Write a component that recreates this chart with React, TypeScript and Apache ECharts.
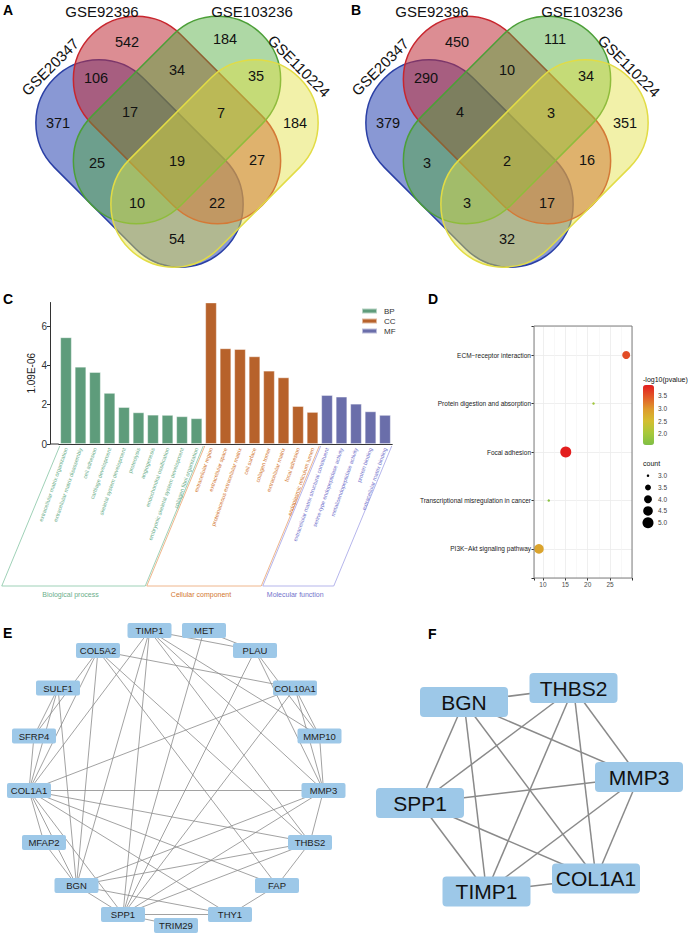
import React, { useEffect, useRef } from 'react';
import * as echarts from 'echarts';

const FONT = '"Liberation Sans", Arial, Helvetica, sans-serif';

// ---------------- Panel A / B : Venn counts ----------------
const vennSetNames = ['GSE20347', 'GSE92396', 'GSE103236', 'GSE110224'];
const vennRegionKeys = ['1', '2', '3', '4', '12', '23', '34', '13', '24', '14', '123', '234', '134', '124', '1234'];
const vennCountsA = [371, 542, 184, 184, 106, 34, 35, 25, 27, 54, 17, 7, 10, 22, 19];
const vennCountsB = [379, 450, 111, 351, 290, 10, 34, 3, 16, 32, 4, 3, 3, 17, 2];

// ---------------- Panel C : GO terms ----------------
const goTerms = [
  'extracellular matrix organization', 'extracellular matrix disassembly', 'cell adhesion',
  'cartilage development', 'skeletal system development', 'proteolysis', 'angiogenesis',
  'endochondral ossification', 'embryonic skeletal system development', 'collagen fibril organization',
  'extracellular region', 'extracellular space', 'proteinaceous extracellular matrix', 'cell surface',
  'collagen trimer', 'extracellular matrix', 'focal adhesion', 'endoplasmic reticulum lumen',
  'extracellular matrix structural constituent', 'serine-type endopeptidase activity',
  'metalloendopeptidase activity', 'protein binding', 'extracellular matrix binding',
];
const goGroups = [
  'BP', 'BP', 'BP', 'BP', 'BP', 'BP', 'BP', 'BP', 'BP', 'BP',
  'CC', 'CC', 'CC', 'CC', 'CC', 'CC', 'CC', 'CC',
  'MF', 'MF', 'MF', 'MF', 'MF',
];
const goValues = [
  5.43, 3.93, 3.66, 2.6, 1.88, 1.61, 1.49, 1.48, 1.41, 1.31,
  7.2, 4.87, 4.83, 4.46, 3.73, 3.39, 1.93, 1.63,
  2.49, 2.41, 2.05, 1.66, 1.48,
];
const goGroupNames = ['BP', 'CC', 'MF'];
const goGroupTitles = ['Biological process', 'Cellular component', 'Molecular function'];
const goYAxisName = '1.09E-06';

// ---------------- Panel D : KEGG ----------------
const keggTerms = [
  'ECM\u2212receptor interaction', 'Protein digestion and absorption', 'Focal adhesion',
  'Transcriptional misregulation in cancer', 'PI3K\u2212Akt signaling pathway',
];
const keggRatio = [28.6, 21.3, 15.1, 11.3, 9.1];
const keggLogP = [3.55, 1.95, 3.9, 1.7, 2.85];
const keggCount = [4, 3, 5, 3, 4.5];
const keggMinorX = [12.5, 17.5, 22.5, 27.5];
const colorbarTicks = [3.5, 3.0, 2.5, 2.0];
const countLegend = [3.0, 3.5, 4.0, 4.5, 5.0];

// ---------------- Panel E / F : networks ----------------
const netENodes = ['TIMP1', 'MET', 'PLAU', 'COL5A2', 'SULF1', 'COL10A1', 'SFRP4', 'MMP10', 'COL1A1', 'MMP3', 'MFAP2', 'THBS2', 'BGN', 'FAP', 'SPP1', 'THY1', 'TRIM29'];
const netEEdges: [string, string][] = [
  ['COL5A2', 'COL10A1'],
  ['TIMP1', 'COL1A1'], ['TIMP1', 'BGN'], ['TIMP1', 'SPP1'], ['TIMP1', 'THBS2'], ['TIMP1', 'MMP3'], ['TIMP1', 'MMP10'], ['TIMP1', 'PLAU'],
  ['MET', 'PLAU'], ['MET', 'SPP1'],
  ['PLAU', 'SPP1'], ['PLAU', 'MMP10'], ['PLAU', 'MMP3'],
  ['COL10A1', 'COL1A1'], ['COL10A1', 'SPP1'], ['COL10A1', 'MMP10'], ['COL10A1', 'MMP3'],
  ['COL5A2', 'COL1A1'], ['COL5A2', 'SFRP4'], ['COL5A2', 'BGN'], ['COL5A2', 'THBS2'], ['COL5A2', 'FAP'],
  ['SULF1', 'SFRP4'], ['SULF1', 'COL1A1'], ['SULF1', 'BGN'],
  ['SFRP4', 'COL1A1'],
  ['COL1A1', 'MMP3'], ['COL1A1', 'THBS2'], ['COL1A1', 'FAP'], ['COL1A1', 'THY1'], ['COL1A1', 'SPP1'], ['COL1A1', 'BGN'], ['COL1A1', 'MFAP2'],
  ['MFAP2', 'BGN'],
  ['BGN', 'SPP1'], ['BGN', 'THY1'], ['BGN', 'MMP3'], ['BGN', 'THBS2'],
  ['SPP1', 'THY1'], ['SPP1', 'MMP3'], ['SPP1', 'THBS2'], ['SPP1', 'TRIM29'],
  ['THBS2', 'FAP'], ['THBS2', 'MMP3'], ['MMP10', 'MMP3'], ['FAP', 'THY1'],
];
const netFNodes = ['BGN', 'THBS2', 'MMP3', 'SPP1', 'COL1A1', 'TIMP1'];
const netFEdges: [string, string][] = [
  ['BGN', 'THBS2'], ['BGN', 'SPP1'], ['BGN', 'TIMP1'], ['BGN', 'COL1A1'], ['BGN', 'MMP3'],
  ['THBS2', 'SPP1'], ['THBS2', 'TIMP1'], ['THBS2', 'COL1A1'], ['THBS2', 'MMP3'],
  ['MMP3', 'SPP1'], ['MMP3', 'TIMP1'], ['MMP3', 'COL1A1'],
  ['SPP1', 'TIMP1'], ['SPP1', 'COL1A1'], ['TIMP1', 'COL1A1'],
];

// ---------------- layout (positions / styles only) ----------------
const vennRegionPos: Record<string, [number, number]> = {
  '1': [58, 123], '2': [127, 42], '3': [225, 39], '4': [295, 123],
  '12': [96, 78], '23': [177, 70], '34': [256, 76], '13': [97, 163], '24': [257, 160], '14': [177, 239],
  '123': [130, 112], '234': [221, 113], '134': [137, 203], '124': [217, 203], '1234': [177, 161],
};
const STAD_L = 241, STAD_W = 126;
const vennShapes = [
  { cx: 139.5, cy: 163.5, rot: -Math.PI / 4, fill: 'rgba(40,68,176,0.55)', stroke: '#2A3FA5' },
  { cx: 177, cy: 120, rot: -Math.PI / 4, fill: 'rgba(192,48,58,0.55)', stroke: '#C8262E' },
  { cx: 177, cy: 120, rot: Math.PI / 4, fill: 'rgba(76,168,56,0.45)', stroke: '#4C9F38' },
  { cx: 214.5, cy: 163.5, rot: Math.PI / 4, fill: 'rgba(226,224,64,0.45)', stroke: '#E2DC45' },
];
const vennLabelPos = [
  { x: 50, y: 67, rot: Math.PI / 4 },
  { x: 102, y: 11, rot: 0 },
  { x: 252, y: 11, rot: 0 },
  { x: 299, y: 66, rot: -Math.PI / 4 },
];
const netEPos: Record<string, [number, number]> = {
  TIMP1: [149.5, 630.5], MET: [204, 630.5], PLAU: [255, 650.5], COL5A2: [98, 650.5],
  SULF1: [58, 688], COL10A1: [295, 688], SFRP4: [34, 736], MMP10: [319.5, 736],
  COL1A1: [29, 790.5], MMP3: [323.5, 790.5], MFAP2: [44, 842.5], THBS2: [310, 842.5],
  BGN: [76.5, 885.5], FAP: [277, 885.5], SPP1: [123, 914.5], THY1: [230, 914.5], TRIM29: [176, 925.5],
};
const netFPos: Record<string, [number, number]> = {
  BGN: [464, 702], THBS2: [573.5, 688], MMP3: [639, 777], SPP1: [420, 803], COL1A1: [596, 878.5], TIMP1: [486.5, 891.5],
};
const NODE_E_PATH = 'path://M2,0H42A2,2 0 0 1 44,2V13A2,2 0 0 1 42,15H2A2,2 0 0 1 0,13V2A2,2 0 0 1 2,0Z';
const NODE_F_PATH = 'path://M4,0H84A4,4 0 0 1 88,4V26A4,4 0 0 1 84,30H4A4,4 0 0 1 0,26V4A4,4 0 0 1 4,0Z';

const groupBar: Record<string, string> = { BP: '#5E9C7B', CC: '#B7622B', MF: '#6A6EAA' };
const groupText: Record<string, string> = { BP: '#6AAE8A', CC: '#D2762F', MF: '#7373CC' };
const groupLine: Record<string, string> = { BP: '#86C5A4', CC: '#EBA36E', MF: '#A2A2E6' };

const C_LEFT = 58.75;
const C_BAND = 14.5;
const C_TOP = 302.5;
const C_H = 141.5;
const C_YMAX = 7.2;

const D_LEFT = 534, D_TOP = 326, D_W = 98, D_H = 252;
const LOGP_MIN = 1.57, LOGP_MAX = 3.91;
const CB_X = 643, CB_Y = 385, CB_W = 11, CB_H = 60;

function dotSize(c: number) {
  const dmin = 2.5, dmax = 11;
  return Math.sqrt(dmin * dmin + (dmax * dmax - dmin * dmin) * (c - 3) / 2);
}

function text(x: number, y: number, t: string, o: any = {}) {
  const align = o.align || 'center';
  const va = o.va || 'middle';
  return {
    type: 'text', x, y, rotation: o.rot || 0, silent: true, z: 20,
    style: {
      text: t, fill: o.color || '#111', fontSize: o.size || 10, fontFamily: FONT,
      fontWeight: o.weight || 'normal', align, verticalAlign: va, textAlign: align, textVerticalAlign: va,
    },
  };
}

function buildOption() {
  const graphic: any[] = [];

  // Venn panels
  [vennCountsA, vennCountsB].forEach((counts, p) => {
    const dx = p * 330;
    vennShapes.forEach((s) => {
      graphic.push({
        type: 'rect', x: s.cx + dx, y: s.cy, rotation: s.rot, silent: true, z: 5,
        shape: { x: -STAD_L / 2, y: -STAD_W / 2, width: STAD_L, height: STAD_W, r: STAD_W / 2 },
        style: { fill: s.fill, stroke: s.stroke, lineWidth: 1.5 },
      });
    });
    vennRegionKeys.forEach((k, i) => {
      const pos = vennRegionPos[k];
      graphic.push(text(pos[0] + dx, pos[1], String(counts[i]), { size: 14.5 }));
    });
    vennSetNames.forEach((n, i) => {
      const lp = vennLabelPos[i];
      graphic.push(text(lp.x + dx, lp.y, n, { size: 15, rot: lp.rot }));
    });
  });

  // Panel letters
  const letters: [string, number, number][] = [['A', 3, 3], ['B', 351, 3], ['C', 3, 292], ['D', 428, 292], ['E', 3, 626], ['F', 428, 627]];
  letters.forEach(([l, x, y]) => graphic.push(text(x, y, l, { size: 14, weight: 'bold', align: 'left', va: 'top', color: '#000' })));

  // Panel C extra: axis line segment left of first band
  graphic.push({ type: 'line', silent: true, shape: { x1: 50, y1: C_TOP + C_H, x2: C_LEFT, y2: C_TOP + C_H }, style: { stroke: '#333', lineWidth: 1 } });

  // Panel C brackets
  const bounds: number[] = [0];
  let acc = 0;
  goGroupNames.forEach((g) => { acc += goGroups.filter((x) => x === g).length; bounds.push(acc); });
  const topY = 446, botY = 586, slant = 58;
  goGroupNames.forEach((g, gi) => {
    const lt = C_LEFT + bounds[gi] * C_BAND + 1;
    const rt = C_LEFT + bounds[gi + 1] * C_BAND - 0.5;
    graphic.push({
      type: 'polyline', silent: true,
      shape: { points: [[lt, topY], [lt - slant, botY], [rt - slant, botY], [rt, topY]] },
      style: { stroke: groupLine[g], lineWidth: 0.8, fill: null },
    });
    graphic.push(text((lt + rt) / 2 - slant - 3, 594, goGroupTitles[gi], { size: 7, color: groupText[g] }));
  });

  // Panel D: box border, legends
  graphic.push({ type: 'rect', silent: true, z: 15, shape: { x: D_LEFT, y: D_TOP, width: D_W, height: D_H }, style: { fill: null, stroke: '#7F7F7F', lineWidth: 1 } });
  graphic.push(text(CB_X, 379, '-log10(pvalue)', { size: 7, align: 'left', color: '#111' }));
  colorbarTicks.forEach((v) => {
    const y = CB_Y + (LOGP_MAX - v) / (LOGP_MAX - LOGP_MIN) * CB_H;
    graphic.push(text(658, y, v.toFixed(1), { size: 6.5, align: 'left', color: '#444' }));
  });
  graphic.push(text(CB_X, 463, 'count', { size: 7, align: 'left', color: '#111' }));
  countLegend.forEach((c, i) => {
    const y = 475.7 + i * 11.75;
    graphic.push({ type: 'circle', silent: true, shape: { cx: 648, cy: y, r: dotSize(c) / 2 }, style: { fill: '#000' } });
    graphic.push(text(658, y, c.toFixed(1), { size: 6.5, align: 'left', color: '#444' }));
  });

  const barSeries = goGroupNames.map((g) => ({
    type: 'bar', name: g, stack: 'go', xAxisIndex: 0, yAxisIndex: 0, barWidth: 11.5,
    itemStyle: { color: groupBar[g], borderColor: 'rgba(255,255,255,0.55)', borderWidth: 0.8 },
    data: goValues.map((v, i) => (goGroups[i] === g ? v : '-')),
  }));

  const mkNodes = (names: string[], pos: Record<string, [number, number]>) =>
    names.map((n) => ({ name: n, value: pos[n] }));
  const mkLinks = (edges: [string, string][]) => edges.map(([s, t]) => ({ source: s, target: t }));

  return {
    animation: false,
    backgroundColor: '#ffffff',
    textStyle: { fontFamily: FONT },
    legend: {
      data: goGroupNames, orient: 'vertical', left: 361, top: 307, itemWidth: 15, itemHeight: 5, itemGap: 2,
      icon: 'rect', padding: 0, selectedMode: false,
      textStyle: { fontSize: 8, color: '#333', fontFamily: FONT, padding: [0, 0, 0, 2] },
    },
    grid: [
      { left: C_LEFT, top: C_TOP, width: C_BAND * goTerms.length, height: C_H },
      { left: D_LEFT, top: D_TOP, width: D_W, height: D_H },
      { left: 0, top: 0, width: 691, height: 936 },
    ],
    xAxis: [
      {
        gridIndex: 0, type: 'category', data: goTerms,
        axisLine: { lineStyle: { color: '#333', width: 1 } },
        axisTick: { alignWithLabel: true, length: 3, lineStyle: { color: '#333' } },
        axisLabel: {
          interval: 0, rotate: 71, fontSize: 5.5, margin: 4, fontFamily: FONT,
          color: (v: string, i: number) => groupText[goGroups[i]],
        },
      },
      {
        gridIndex: 1, type: 'value', min: 8, max: 29.9,
        axisLine: { show: false },
        axisTick: { show: true, length: 2.5, lineStyle: { color: '#333' } },
        splitLine: { show: true, lineStyle: { color: '#EBEBEB', width: 0.8 } },
        axisLabel: {
          fontSize: 6.5, color: '#4D4D4D', margin: 3, fontFamily: FONT,
          formatter: (v: number) => (Math.abs(v / 5 - Math.round(v / 5)) < 1e-6 ? String(v) : ''),
        },
      },
      { gridIndex: 2, type: 'value', min: 0, max: 691, show: false },
    ],
    yAxis: [
      {
        gridIndex: 0, type: 'value', min: 0, max: C_YMAX, interval: 2, offset: C_LEFT - 50,
        axisLine: { show: true, lineStyle: { color: '#333', width: 1 } },
        axisTick: { show: true, length: 3, lineStyle: { color: '#333' } },
        splitLine: { show: false },
        axisLabel: { fontSize: 10, color: '#333', margin: 3, showMaxLabel: false, fontFamily: FONT },
        name: goYAxisName, nameLocation: 'middle', nameRotate: 90, nameGap: 14,
        nameTextStyle: { fontSize: 10, color: '#222', fontFamily: FONT },
      },
      {
        gridIndex: 1, type: 'value', min: 0.4, max: 5.6,
        axisLine: { show: false },
        axisTick: { show: true, length: 2.5, lineStyle: { color: '#333' } },
        splitLine: { show: true, lineStyle: { color: '#EBEBEB', width: 0.8 } },
        axisLabel: {
          fontSize: 6.5, color: '#1A1A1A', margin: 3, fontFamily: FONT,
          formatter: (v: number) => {
            const i = Math.round(v);
            return Math.abs(v - i) < 1e-6 && i >= 1 && i <= 5 ? keggTerms[5 - i] : '';
          },
        },
      },
      { gridIndex: 2, type: 'value', min: 0, max: 936, inverse: true, show: false },
    ],
    visualMap: [{
      type: 'continuous', seriesIndex: 3, dimension: 2, min: LOGP_MIN, max: LOGP_MAX,
      inRange: { color: ['#7FBF45', '#A8C83A', '#D4BE30', '#DE9A2C', '#E25A28', '#E31D1E'] },
      left: CB_X, top: CB_Y, itemWidth: CB_W, itemHeight: CB_H, padding: 0, calculable: false, hoverLink: false,
    }],
    series: [
      ...barSeries,
      {
        type: 'scatter', xAxisIndex: 1, yAxisIndex: 1, z: 5,
        data: keggTerms.map((t, i) => [keggRatio[i], 5 - i, keggLogP[i], keggCount[i]]),
        symbolSize: (val: number[]) => dotSize(val[3]),
        itemStyle: { opacity: 1 },
        markLine: {
          silent: true, symbol: ['none', 'none'], label: { show: false },
          lineStyle: { color: '#F4F4F4', type: 'solid', width: 0.6 },
          data: keggMinorX.map((v) => ({ xAxis: v })),
          z: 1,
        },
      },
      {
        type: 'graph', layout: 'none', coordinateSystem: 'cartesian2d', xAxisIndex: 2, yAxisIndex: 2,
        symbol: NODE_E_PATH, symbolSize: [44, 15],
        itemStyle: { color: '#9DC8E8', borderWidth: 0 },
        label: { show: true, position: 'inside', fontSize: 9.5, color: '#222', fontFamily: FONT },
        lineStyle: { color: '#8A8A8A', width: 0.8, opacity: 1, curveness: 0 },
        emphasis: { disabled: true },
        data: mkNodes(netENodes, netEPos),
        links: mkLinks(netEEdges),
      },
      {
        type: 'graph', layout: 'none', coordinateSystem: 'cartesian2d', xAxisIndex: 2, yAxisIndex: 2,
        symbol: NODE_F_PATH, symbolSize: [88, 30],
        itemStyle: { color: '#9DC8E8', borderWidth: 0 },
        label: { show: true, position: 'inside', fontSize: 21, color: '#111', fontFamily: FONT },
        lineStyle: { color: '#8A8A8A', width: 1.5, opacity: 1, curveness: 0 },
        emphasis: { disabled: true },
        data: mkNodes(netFNodes, netFPos),
        links: mkLinks(netFEdges),
      },
    ],
    graphic,
  };
}

export default function App() {
  const ref = useRef<HTMLDivElement>(null);
  useEffect(() => {
    const chart = echarts.init(ref.current as HTMLDivElement, null, { renderer: 'svg', width: 691, height: 936 });
    chart.setOption(buildOption() as any);
    return () => chart.dispose();
  }, []);
  return (
    <div
      ref={ref}
      style={{ position: 'absolute', left: 0, top: 0, width: 691, height: 936, background: '#fff' }}
    />
  );
}
